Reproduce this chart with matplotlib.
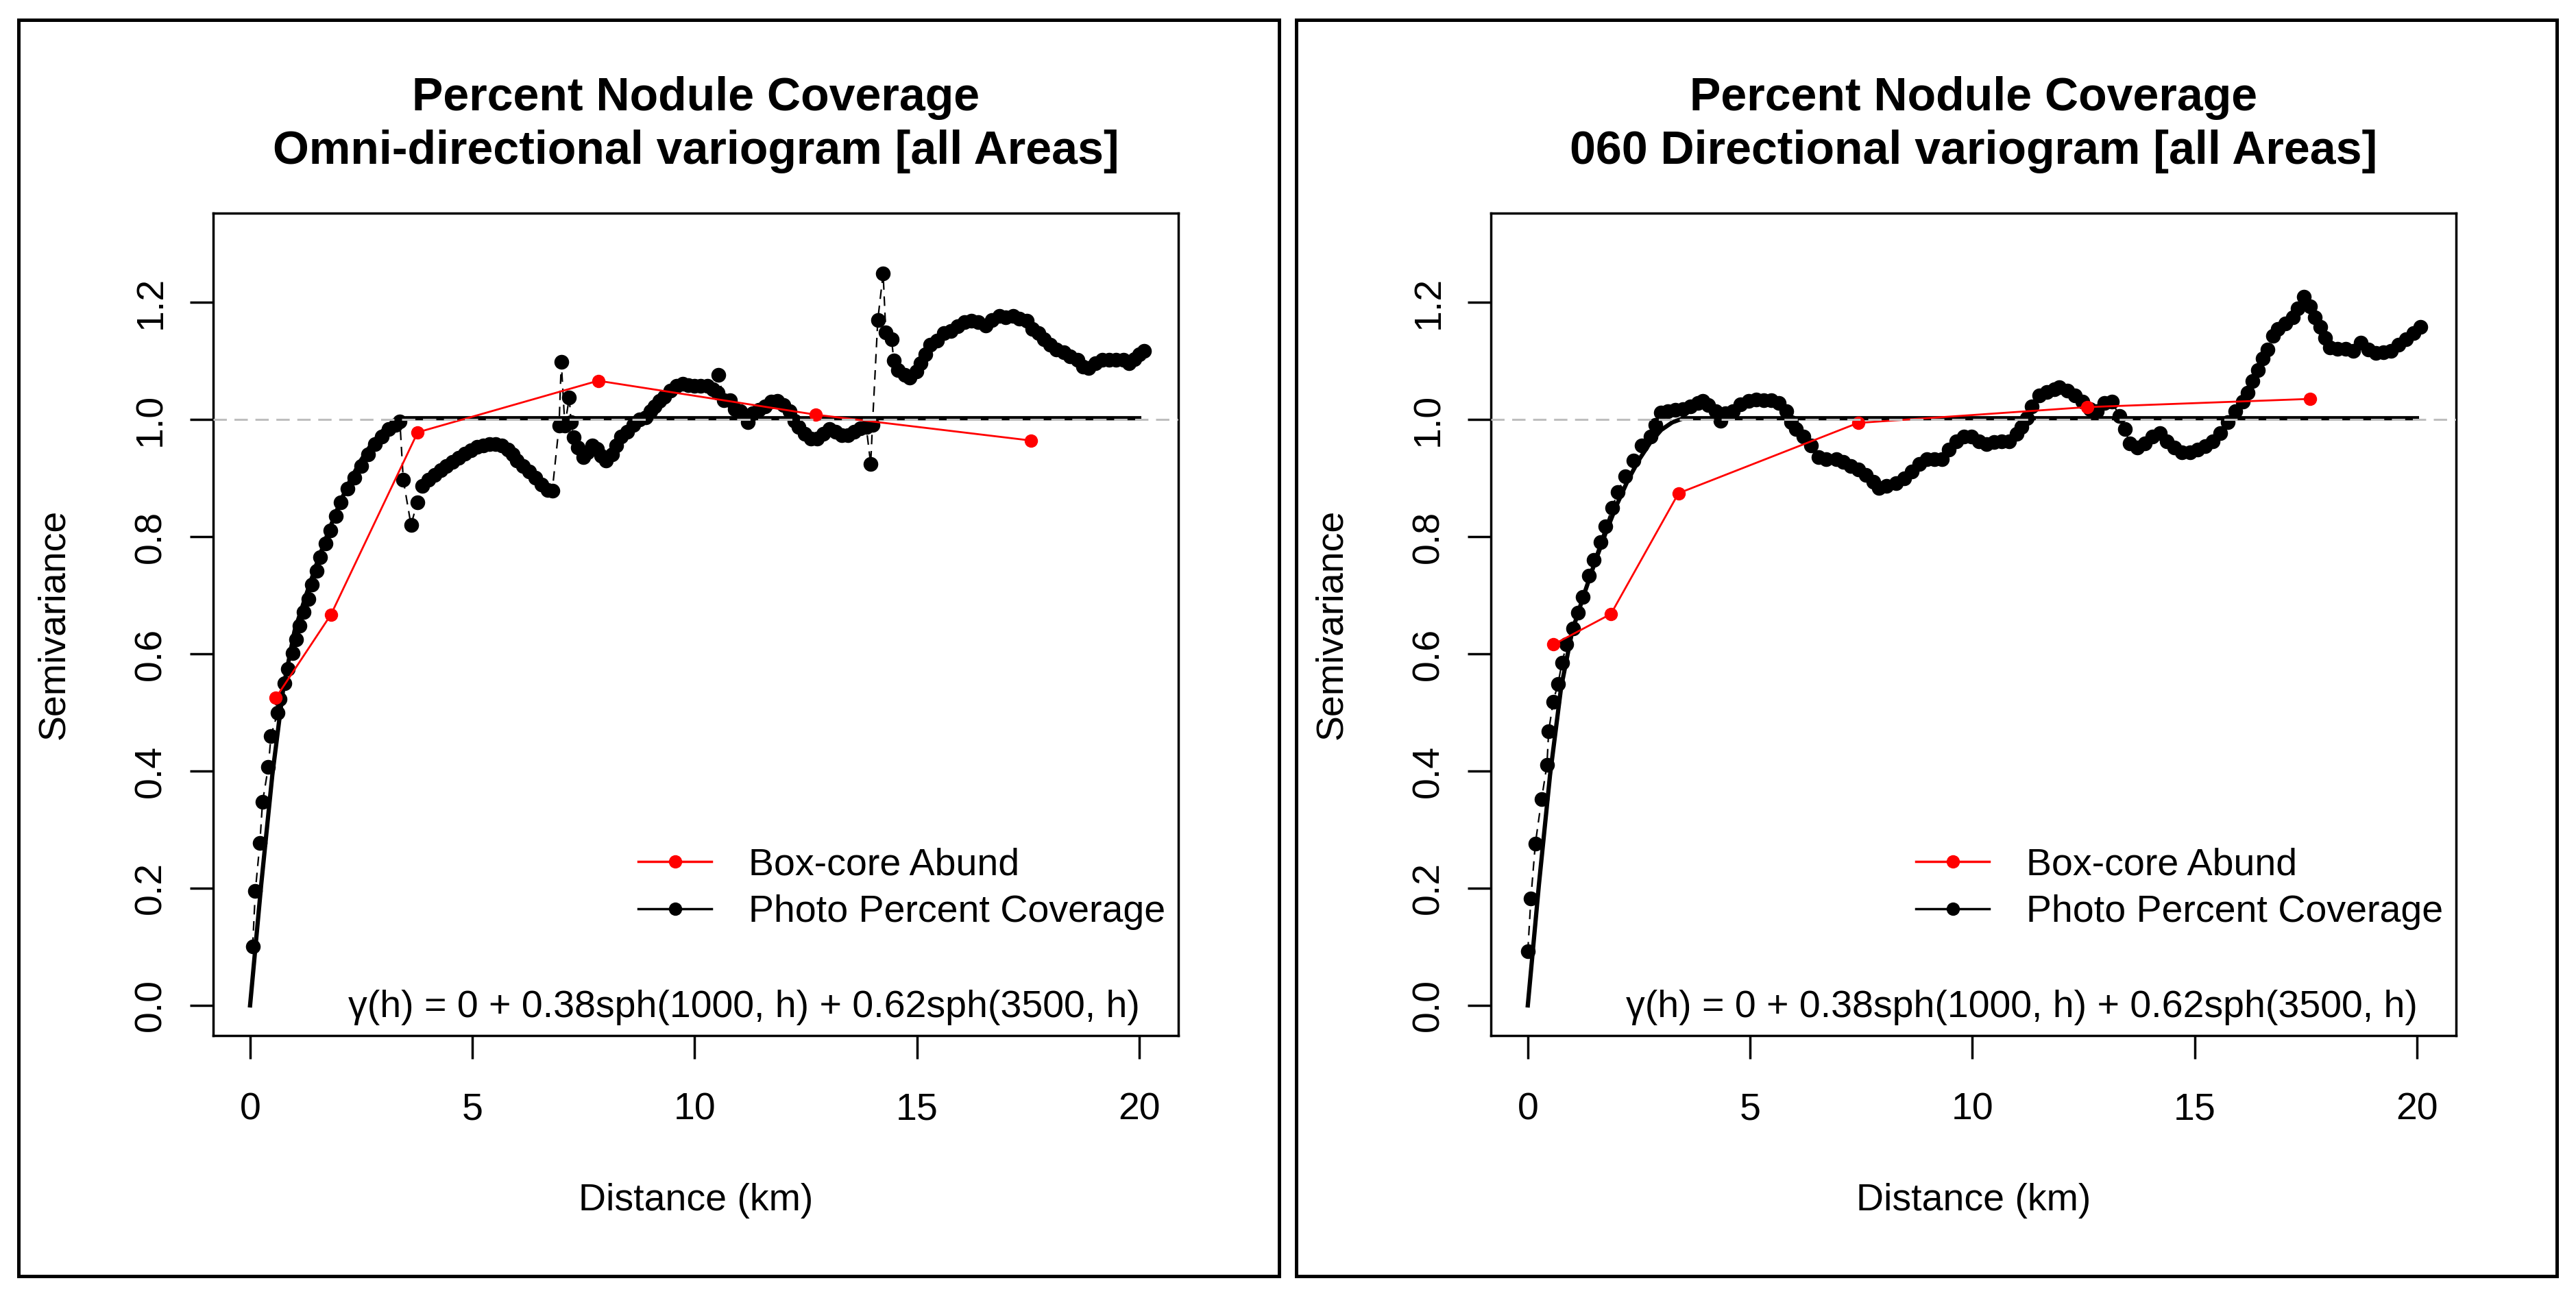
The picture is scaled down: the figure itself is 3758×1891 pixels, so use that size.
import matplotlib
matplotlib.use('Agg')
import matplotlib.pyplot as plt
from matplotlib.lines import Line2D
from matplotlib.patches import Rectangle

plt.rcParams['font.family'] = ['Liberation Sans', 'DejaVu Sans']
plt.rcParams['lines.scale_dashes'] = False

# ---------------- data ----------------
titles_line1 = ["Percent Nodule Coverage", "Percent Nodule Coverage"]
titles_line2 = ["Omni-directional variogram [all Areas]",
                "060 Directional variogram [all Areas]"]

# Photo percent coverage, omni-directional (km, semivariance)
omni_photo_x = [0.057, 0.118, 0.22, 0.28, 0.41, 0.47, 0.617, 0.668, 0.772, 0.849,
                0.952, 1.029, 1.106, 1.209, 1.312, 1.389, 1.492, 1.569, 1.698, 1.80,
                1.929, 2.032, 2.186, 2.34, 2.495, 2.649, 2.803, 2.958, 3.112, 3.267,
                3.37, 3.446, 3.62, 3.76, 3.869, 4.007, 4.145, 4.283, 4.420, 4.558,
                4.696, 4.834, 4.971, 5.109, 5.247, 5.385, 5.523, 5.660, 5.798, 5.902,
                6.005, 6.143, 6.281, 6.418, 6.556, 6.694, 6.797, 6.95, 7.00, 7.08,
                7.18, 7.22, 7.28, 7.38, 7.49, 7.59, 7.69, 7.80, 7.90, 8.00,
                8.14, 8.24, 8.35, 8.49, 8.62, 8.76, 8.90, 9.00, 9.10, 9.21,
                9.31, 9.45, 9.59, 9.73, 9.86, 10.00, 10.14, 10.28, 10.41, 10.52,
                10.54, 10.65, 10.79, 10.90, 11.03, 11.20, 11.31, 11.45, 11.58, 11.72,
                11.86, 12.00, 12.14, 12.24, 12.34, 12.48, 12.62, 12.76, 12.89, 13.03,
                13.17, 13.31, 13.45, 13.58, 13.72, 13.86, 13.96, 14.00, 14.12, 14.24,
                14.30, 14.43, 14.48, 14.58, 14.73, 14.84, 14.99, 15.09, 15.19, 15.30,
                15.45, 15.61, 15.76, 15.92, 16.07, 16.23, 16.38, 16.54, 16.69, 16.85,
                17.00, 17.16, 17.31, 17.47, 17.60, 17.73, 17.86, 17.99, 18.14, 18.30,
                18.45, 18.61, 18.73, 18.86, 19.02, 19.17, 19.33, 19.48, 19.64, 19.77,
                19.90, 20.00, 20.11]
omni_photo_y = [0.100, 0.195, 0.277, 0.347, 0.407, 0.460, 0.499, 0.523, 0.550, 0.574,
                0.601, 0.624, 0.648, 0.671, 0.694, 0.718, 0.741, 0.765, 0.788, 0.811,
                0.835, 0.858, 0.882, 0.901, 0.920, 0.940, 0.958, 0.971, 0.983, 0.991,
                0.996, 0.897, 0.820, 0.858, 0.887, 0.897, 0.905, 0.913, 0.921, 0.928,
                0.934, 0.941, 0.947, 0.953, 0.956, 0.958, 0.958, 0.956, 0.948, 0.940,
                0.930, 0.921, 0.911, 0.901, 0.889, 0.880, 0.878, 0.989, 1.098, 0.990,
                1.037, 0.995, 0.969, 0.952, 0.936, 0.944, 0.956, 0.950, 0.938, 0.930,
                0.940, 0.956, 0.971, 0.979, 0.991, 1.000, 1.004, 1.014, 1.022, 1.032,
                1.039, 1.049, 1.057, 1.061, 1.059, 1.057, 1.057, 1.057, 1.051, 1.045,
                1.076, 1.033, 1.033, 1.018, 1.014, 0.995, 1.010, 1.016, 1.022, 1.030,
                1.032, 1.024, 1.014, 0.998, 0.987, 0.975, 0.967, 0.967, 0.975, 0.983,
                0.979, 0.973, 0.973, 0.979, 0.985, 0.987, 0.924, 0.991, 1.170, 1.249,
                1.149, 1.137, 1.100, 1.084, 1.076, 1.071, 1.082, 1.096, 1.111, 1.127,
                1.135, 1.147, 1.151, 1.159, 1.166, 1.168, 1.166, 1.160, 1.170, 1.176,
                1.174, 1.176, 1.172, 1.168, 1.154, 1.147, 1.137, 1.127, 1.119, 1.115,
                1.107, 1.102, 1.090, 1.088, 1.096, 1.102, 1.102, 1.102, 1.102, 1.096,
                1.103, 1.111, 1.117]

# Photo percent coverage, 060 directional
dir_photo_x = [0.00, 0.07, 0.17, 0.31, 0.43, 0.47, 0.57, 0.68, 0.77, 0.87,
               1.02, 1.13, 1.24, 1.38, 1.49, 1.63, 1.75, 1.90, 2.02, 2.19,
               2.37, 2.56,
               2.76, 2.87, 2.99, 3.15, 3.32, 3.49, 3.66, 3.83, 3.94, 4.06,
               4.23, 4.34, 4.45, 4.62, 4.79, 4.96, 5.13, 5.30, 5.47, 5.64,
               5.81, 5.92, 6.03, 6.20, 6.37, 6.54, 6.71, 6.94, 7.10, 7.27,
               7.44, 7.61, 7.78, 7.89, 8.06, 8.29, 8.46, 8.63, 8.80, 8.97,
               9.14, 9.31, 9.47, 9.64, 9.81, 9.98, 10.15, 10.32, 10.49, 10.66,
               10.83, 11.00, 11.11, 11.22, 11.34, 11.51, 11.68, 11.85, 11.96, 12.13,
               12.30, 12.47, 12.64, 12.80, 12.97, 13.14, 13.31, 13.43, 13.54, 13.71,
               13.88, 14.05, 14.22, 14.38, 14.55, 14.72, 14.89, 15.06, 15.23, 15.40,
               15.57, 15.74, 15.91, 16.08, 16.19, 16.30, 16.42, 16.53, 16.64, 16.76,
               16.87, 17.04, 17.21, 17.32, 17.45, 17.60, 17.71, 17.83, 17.94, 18.05,
               18.22, 18.39, 18.56, 18.73, 18.90, 19.07, 19.24, 19.41, 19.58, 19.75,
               19.92, 20.08]
dir_photo_y = [0.092, 0.183, 0.276, 0.352, 0.410, 0.468, 0.518, 0.549, 0.585, 0.616,
               0.643, 0.670, 0.697, 0.733, 0.760, 0.791, 0.818, 0.849, 0.876, 0.903,
               0.930, 0.955,
               0.971, 0.991, 1.012, 1.014, 1.016, 1.018, 1.022, 1.028, 1.032, 1.024,
               1.014, 0.998, 1.010, 1.014, 1.026, 1.032, 1.034, 1.033, 1.033, 1.028,
               1.014, 0.995, 0.983, 0.971, 0.956, 0.936, 0.932, 0.932, 0.928, 0.920,
               0.915, 0.905, 0.893, 0.883, 0.887, 0.891, 0.899, 0.911, 0.924, 0.932,
               0.932, 0.932, 0.948, 0.963, 0.971, 0.971, 0.963, 0.958, 0.961, 0.963,
               0.963, 0.975, 0.987, 1.002, 1.022, 1.041, 1.047, 1.051, 1.055, 1.049,
               1.041, 1.030, 1.018, 1.014, 1.028, 1.030, 1.006, 0.983, 0.959, 0.952,
               0.959, 0.971, 0.977, 0.963, 0.952, 0.944, 0.944, 0.948, 0.954, 0.963,
               0.977, 0.995, 1.014, 1.030, 1.045, 1.065, 1.084, 1.104, 1.119, 1.143,
               1.154, 1.164, 1.174, 1.189, 1.209, 1.193, 1.174, 1.158, 1.139, 1.123,
               1.121, 1.121, 1.117, 1.131, 1.119, 1.113, 1.115, 1.117, 1.127, 1.137,
               1.147, 1.158]

# Box-core abundance
omni_box_x = [0.58, 1.82, 3.77, 7.83, 12.73, 17.56]
omni_box_y = [0.525, 0.667, 0.978, 1.066, 1.008, 0.964]
dir_box_x = [0.58, 1.87, 3.39, 7.43, 12.58, 17.60]
dir_box_y = [0.616, 0.668, 0.874, 0.994, 1.021, 1.035]

# Fitted model curve (same in both panels)
model_x = [0.0, 0.25, 0.5, 0.75, 1.0, 1.25, 1.5, 1.75, 2.0, 2.25, 2.5, 2.75,
           3.0, 3.25, 3.5, 20.0]
model_y = [0.0, 0.206, 0.393, 0.543, 0.639, 0.698, 0.754, 0.806, 0.854, 0.896,
           0.931, 0.960, 0.982, 0.995, 1.002, 1.002]

ref_level = 1.0
xticks = [0, 5, 10, 15, 20]
yticks = [0.0, 0.2, 0.4, 0.6, 0.8, 1.0, 1.2]
ytick_labels = ["0.0", "0.2", "0.4", "0.6", "0.8", "1.0", "1.2"]
legend_labels = ["Box-core Abund", "Photo Percent Coverage"]
formula = "\u03b3(h) = 0 + 0.38sph(1000, h) + 0.62sph(3500, h)"

# ---------------- figure ----------------
W, H = 3758, 1891
DPI = 100
fig = plt.figure(figsize=(W / DPI, H / DPI), dpi=DPI)


def fx(px):
    return px / W


def fy(py):
    return 1 - py / H


panels = [
    dict(off=0, photo=(omni_photo_x, omni_photo_y), box=(omni_box_x, omni_box_y)),
    dict(off=1864, photo=(dir_photo_x, dir_photo_y), box=(dir_box_x, dir_box_y)),
]

TXT = 40
MS = 15.5
MS_RED = 14
for i, p in enumerate(panels):
    off = p['off']
    fig.add_artist(Rectangle((fx(27 + off), fy(1862)), 1839 / W, 1833 / H,
                             transform=fig.transFigure, fill=False,
                             lw=3.6, ec='black'))
    ax = fig.add_axes([fx(311 + off), fy(1511), 1408 / W, 1200 / H])
    px_, py_ = p['photo']
    bx_, by_ = p['box']
    ax.plot(px_, py_, color='black', lw=1.6, ls=(0, (10, 7)), zorder=2)
    ax.plot(px_, py_, 'o', color='black', ms=MS, mew=0, zorder=3)
    ax.plot(model_x, model_y, color='black', lw=4.5, zorder=4)
    ax.plot(bx_, by_, color='red', lw=2.0, zorder=5)
    ax.plot(bx_, by_, 'o', color='red', ms=MS_RED, mew=0, zorder=6)
    ax.axhline(ref_level, color='#BEBEBE', lw=2.2, ls=(0, (14, 8)), zorder=7)

    ax.set_xlim(-0.83, 20.88)
    ax.set_ylim(-0.0515, 1.352)
    ax.set_xticks(xticks)
    ax.set_xticklabels([str(t) for t in xticks])
    ax.set_yticks(yticks)
    ax.set_yticklabels(ytick_labels)
    for s in ax.spines.values():
        s.set_linewidth(2.5)
    ax.tick_params(axis='both', length=24.5, width=2.5, labelsize=TXT)
    ax.tick_params(axis='x', pad=35)
    ax.tick_params(axis='y', pad=22)
    for lbl in ax.get_yticklabels():
        lbl.set_rotation(90)
        lbl.set_va('center')
        lbl.set_ha('right')

    handles = [Line2D([], [], color='red', lw=2.5, marker='o', ms=MS_RED, mew=0),
               Line2D([], [], color='black', lw=2.5, marker='o', ms=MS_RED, mew=0)]
    ax.legend(handles, legend_labels, loc='upper left',
              bbox_to_anchor=(0.4403, 0.229), bbox_transform=ax.transAxes,
              frameon=False, fontsize=TXT, handlelength=1.93, handletextpad=0.97,
              labelspacing=0.31, borderpad=0, borderaxespad=0, numpoints=1)

    ax.text(0.96, 0.0225, formula, transform=ax.transAxes, ha='right',
            va='baseline', fontsize=TXT)

    cx = 1015 + off
    fig.text(fx(cx), fy(161), titles_line1[i], ha='center', va='baseline',
             fontsize=49, fontweight='bold')
    fig.text(fx(cx), fy(239), titles_line2[i], ha='center', va='baseline',
             fontsize=49, fontweight='bold')
    fig.text(fx(79 + off), fy(911), "Semivariance", rotation=90, ha='center',
             va='center', fontsize=TXT)
    fig.text(fx(cx), fy(1752), "Distance (km)", ha='center', va='center',
             fontsize=TXT)

fig.savefig('out.png', dpi=DPI, facecolor='white')
